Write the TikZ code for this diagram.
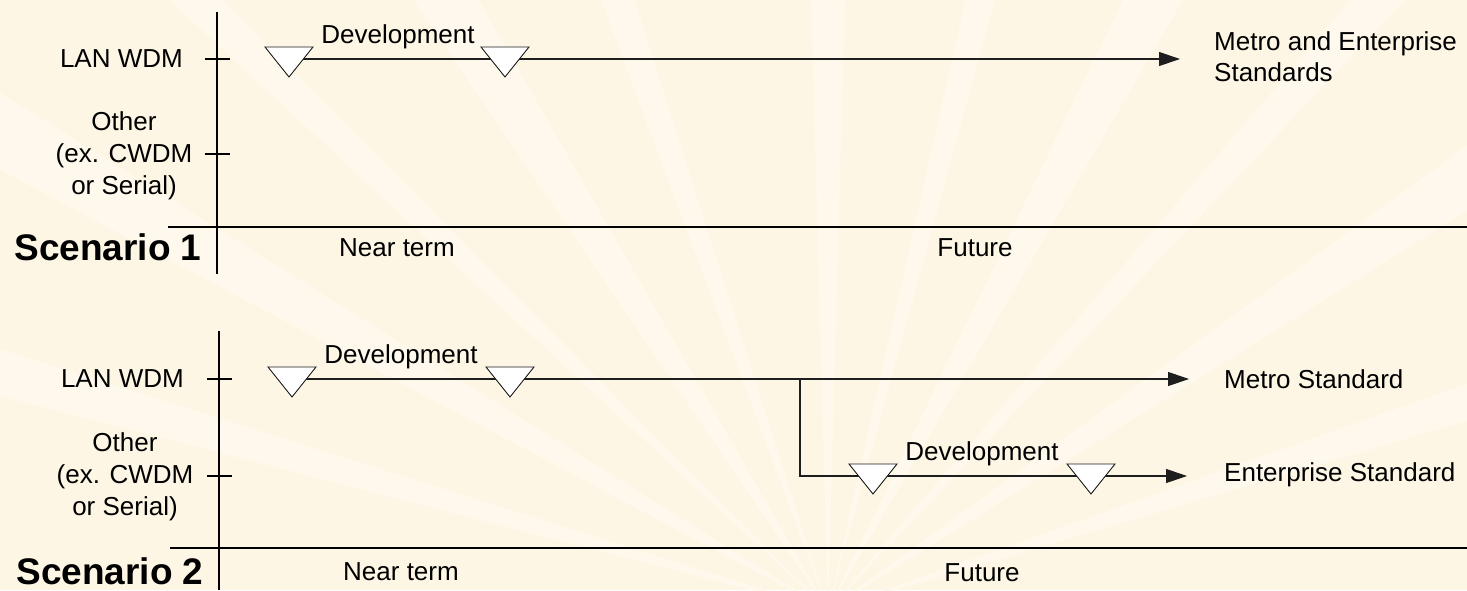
\documentclass[tikz,border=0pt]{standalone}
\usepackage{fontspec}
\setmainfont{Liberation Sans}
\usetikzlibrary{arrows.meta}
\definecolor{bgcream}{RGB}{253,246,228}
\definecolor{raylight}{RGB}{254,249,236}
\definecolor{inkline}{RGB}{30,30,30}
% down-pointing milestone triangle centred on a timeline point
\newcommand\devmark[1]{\filldraw[devtri] ([shift={(-24,-12)}]#1) -- ([shift={(24,-12)}]#1) -- ([shift={(0,18)}]#1) -- cycle;}
\begin{document}
\begin{tikzpicture}[x=1pt,y=-1pt,
  lbl/.style={font=\fontsize{26}{32}\selectfont, inner sep=0pt},
  scen/.style={font=\fontsize{37}{40}\selectfont\bfseries, inner sep=0pt},
  axisline/.style={line width=1.1pt, draw=black},
  flow/.style={line width=1.1pt, draw=inkline},
  arr/.style={flow, -{Triangle[length=21pt,width=14pt]}},
  devtri/.style={fill=white, draw=inkline, line width=0.9pt, line join=miter},
]
\useasboundingbox (0,0) rectangle (1467,590);
\fill[bgcream] (0,0) rectangle (1467,590);
% faint sunburst behind the chart
\begin{scope}
  \clip (0,0) rectangle (1467,590);
  \begin{scope}[shift={(828,610)}]
    \foreach \a/\w in {196/1.5, 210/2, 224/1.2, 238/2.2, 251/1.4, 270/1.6, 284/1.3, 298/2.2, 312/1.4, 326/2, 342/1.5}
      \fill[raylight] (0,0) -- (\a-\w:1800) -- (\a+\w:1800) -- cycle;
  \end{scope}
\end{scope}

% ---------------- Scenario 1 ----------------
\coordinate (a1top) at (217,12);
\coordinate (a1bot) at (217,274);
\coordinate (a1left) at (168,227);
\coordinate (a1right) at (1467,227);
\coordinate (k1a) at (205,59);  \coordinate (k1b) at (230,59);
\coordinate (k1c) at (205,154); \coordinate (k1d) at (230,154);
\draw[axisline] (a1top) -- (a1bot);
\draw[axisline] (a1left) -- (a1right);
\draw[axisline] (k1a) -- (k1b);
\draw[axisline] (k1c) -- (k1d);

\node[lbl, anchor=east] (lan1) at (183,59) {LAN WDM};
\node[lbl, align=center] (oth1) at (124,156) {Other\\(ex. CWDM\\or Serial)};
\node[scen] (sc1) at (108,247) {Scenario 1};
\node[lbl] (near1) at (397,248) {Near term};
\node[lbl] (fut1) at (975,248) {Future};

\coordinate (s1t1) at (289,59);
\coordinate (s1t2) at (505,59);
\coordinate (s1end) at (1180,59);
\draw[arr] (s1t1) -- (s1end);
\devmark{s1t1}
\devmark{s1t2}
\node[lbl, anchor=base] (dev1) at (398,43) {Development};
\node[lbl, anchor=west, align=left] (std1) at (1214,57) {Metro and Enterprise\\[-1pt]Standards};

% ---------------- Scenario 2 ----------------
\coordinate (a2top) at (219,331);
\coordinate (a2bot) at (219,590);
\coordinate (a2left) at (170,548);
\coordinate (a2right) at (1467,548);
\coordinate (k2a) at (207,379); \coordinate (k2b) at (232,379);
\coordinate (k2c) at (207,476); \coordinate (k2d) at (232,476);
\draw[axisline] (a2top) -- (a2bot);
\draw[axisline] (a2left) -- (a2right);
\draw[axisline] (k2a) -- (k2b);
\draw[axisline] (k2c) -- (k2d);

\node[lbl, anchor=east] (lan2) at (184,379) {LAN WDM};
\node[lbl, align=center] (oth2) at (125,477) {Other\\(ex. CWDM\\or Serial)};
\node[scen] (sc2) at (110,571) {Scenario 2};
\node[lbl] (near2) at (401,572) {Near term};
\node[lbl] (fut2) at (982,573) {Future};

\coordinate (s2t1) at (292,379);
\coordinate (s2t2) at (510,379);
\coordinate (s2end) at (1189,379);
\coordinate (split) at (800,379);
\coordinate (bend) at (800,476);
\coordinate (s2t3) at (873,476);
\coordinate (s2t4) at (1091,476);
\coordinate (s2end2) at (1187,476);
\draw[arr] (s2t1) -- (s2end);
\draw[arr] (split) -- (bend) -- (s2end2);
\devmark{s2t1}
\devmark{s2t2}
\devmark{s2t3}
\devmark{s2t4}
\node[lbl, anchor=base] (dev2) at (401,363) {Development};
\node[lbl, anchor=base] (dev3) at (982,460) {Development};
\node[lbl, anchor=west] (std2) at (1224,379) {Metro Standard};
\node[lbl, anchor=west] (std3) at (1224,475) {Enterprise Standard};
\end{tikzpicture}
\end{document}
